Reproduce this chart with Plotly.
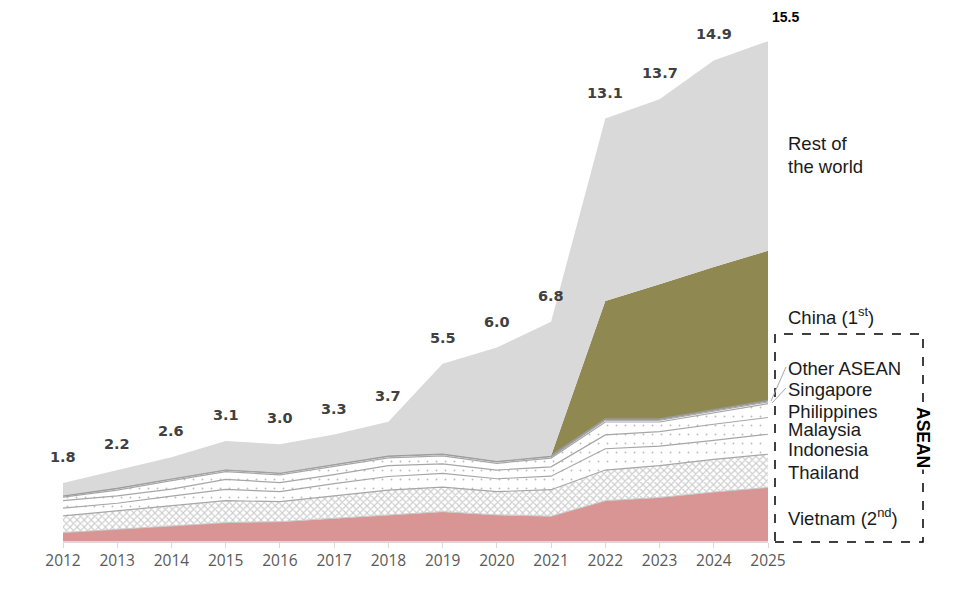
import plotly.graph_objects as go

years = list(range(2012, 2026))
total_labels = ["1.8", "2.2", "2.6", "3.1", "3.0", "3.3", "3.7", "5.5", "6.0", "6.8", "13.1", "13.7", "14.9", "15.5"]
totals = [1.8, 2.2, 2.6, 3.1, 3.0, 3.3, 3.7, 5.5, 6.0, 6.8, 13.1, 13.7, 14.9, 15.5]

vietnam = [0.26, 0.36, 0.46, 0.57, 0.60, 0.70, 0.81, 0.91, 0.81, 0.77, 1.25, 1.35, 1.52, 1.66]
thailand = [0.52, 0.58, 0.63, 0.68, 0.62, 0.69, 0.77, 0.76, 0.72, 0.82, 0.95, 0.99, 1.01, 1.03]
indonesia = [0.24, 0.23, 0.30, 0.35, 0.31, 0.39, 0.42, 0.43, 0.40, 0.42, 0.66, 0.60, 0.59, 0.62]
malaysia = [0.23, 0.23, 0.22, 0.31, 0.28, 0.28, 0.34, 0.29, 0.27, 0.29, 0.43, 0.45, 0.50, 0.52]
philippines = [0.11, 0.18, 0.26, 0.24, 0.24, 0.25, 0.24, 0.25, 0.21, 0.27, 0.40, 0.30, 0.35, 0.43]
singapore = [0.03, 0.04, 0.04, 0.04, 0.04, 0.04, 0.04, 0.04, 0.04, 0.04, 0.05, 0.05, 0.05, 0.05]
other_asean = [0.02, 0.03, 0.03, 0.03, 0.03, 0.03, 0.03, 0.03, 0.03, 0.03, 0.04, 0.04, 0.04, 0.04]
china = [0, 0, 0, 0, 0, 0, 0, 0, 0, 0, 3.66, 4.18, 4.44, 4.65]
rest_of_world = [0.39, 0.55, 0.66, 0.88, 0.88, 0.92, 1.05, 2.79, 3.52, 4.16, 5.66, 5.74, 6.40, 6.50]

W, H = 969, 593
ML, MR, MT, MB = 63, 201, 25, 52
PW = W - ML - MR
PH = H - MT - MB


def px(x):
    return (x - ML) / PW


def py(y):
    return (H - MB - y) / PH


GRAY_LINE = "#a6a6a6"
fig = go.Figure()


def add_layer(name, vals, fillcolor=None, pattern=None, line_color=GRAY_LINE, line_width=1.2):
    kw = dict(x=years, y=vals, name=name, mode="lines", stackgroup="one",
              line=dict(color=line_color, width=line_width), hoverinfo="skip")
    if pattern is not None:
        kw["fillpattern"] = pattern
        kw["fillcolor"] = "white"
    else:
        kw["fillcolor"] = fillcolor
    fig.add_trace(go.Scatter(**kw))


dots = dict(shape=".", fgcolor="#7a7a7a", bgcolor="white", size=9, solidity=0.035, fillmode="overlay")
cross = dict(shape="x", fgcolor="#9a9a9a", bgcolor="white", size=5, solidity=0.4, fillmode="overlay")

add_layer("Vietnam", vietnam, fillcolor="#d99594", line_color="#c9c9c9", line_width=1)
add_layer("Thailand", thailand, pattern=cross)
add_layer("Indonesia", indonesia, pattern=dots)
add_layer("Malaysia", malaysia, pattern=dots)
add_layer("Philippines", philippines, pattern=dots)
add_layer("Singapore", singapore, fillcolor="white", line_width=1)
add_layer("Other ASEAN", other_asean, fillcolor="white", line_color="#999999", line_width=1.8)
add_layer("China", china, fillcolor="#908851", line_color="#908851", line_width=0)
add_layer("Rest of the world", rest_of_world, fillcolor="#d9d9d9", line_color="#d9d9d9", line_width=0)

annotations = []
for yr, tot, lab in zip(years, totals, total_labels):
    if yr == years[-1]:
        annotations.append(dict(x=yr, y=tot, text=lab, showarrow=False, xshift=17, yshift=24,
                                font=dict(family="Liberation Sans", size=14, color="black", weight="bold")))
    else:
        annotations.append(dict(x=yr, y=tot, text=lab, showarrow=False, yshift=26,
                                font=dict(family="DejaVu Sans", size=14.5, color="#404040", weight="bold")))

right_labels = [
    ("Rest of", 143), ("the world", 166), ("China (1<sup>st</sup>)", 316),
    ("Other ASEAN", 368), ("Singapore", 390), ("Philippines", 411),
    ("Malaysia", 429), ("Indonesia", 449), ("Thailand", 472),
    ("Vietnam (2<sup>nd</sup>)", 517),
]
for txt, yy in right_labels:
    annotations.append(dict(xref="paper", yref="paper", x=px(786), y=py(yy), text=txt,
                            showarrow=False, xanchor="left", yanchor="middle",
                            font=dict(family="Liberation Sans", size=18.5, color="#1a1a1a")))

annotations.append(dict(xref="paper", yref="paper", x=px(923), y=py(437), text="ASEAN",
                        showarrow=False, textangle=90, bgcolor="white",
                        xanchor="center", yanchor="middle",
                        font=dict(family="Liberation Sans", size=17.5, color="black", weight="bold")))

shapes = [
    dict(type="rect", xref="paper", yref="paper", x0=px(775), x1=px(923), y0=py(542), y1=py(334),
         line=dict(color="black", width=1.5, dash="dash"), layer="above"),
    dict(type="line", xref="paper", yref="paper", x0=px(786), y0=py(367), x1=px(771), y1=py(401),
         line=dict(color=GRAY_LINE, width=1)),
    dict(type="line", xref="paper", yref="paper", x0=px(786), y0=py(388), x1=px(772), y1=py(403),
         line=dict(color=GRAY_LINE, width=1)),
]

fig.update_layout(
    width=W, height=H,
    margin=dict(l=ML, r=MR, t=MT, b=MB),
    paper_bgcolor="white", plot_bgcolor="white",
    showlegend=False,
    annotations=annotations, shapes=shapes,
    xaxis=dict(range=[2012, 2025], tickvals=years, ticktext=[str(y) for y in years],
               showgrid=False, zeroline=False, showline=True, linecolor="#d9d9d9", linewidth=1.5,
               ticks="outside", ticklen=5, tickcolor="#d9d9d9",
               tickfont=dict(family="Open Sans", size=15.5, color="#595959")),
    yaxis=dict(range=[0, 16], visible=False, showgrid=False, zeroline=False),
)

fig.write_html("out.html")
